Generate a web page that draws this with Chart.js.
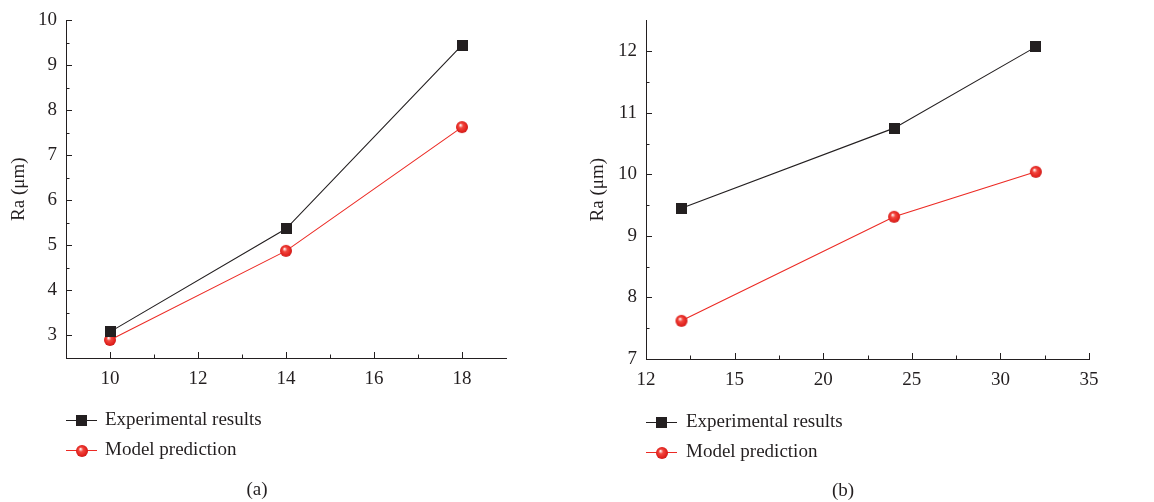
<!DOCTYPE html>
<html>
<head>
<meta charset="utf-8">
<script src="https://cdn.jsdelivr.net/npm/chart.js@4.4.0/dist/chart.umd.min.js"></script>
<style>
  html, body { margin: 0; padding: 0; background: #fff; }
  #wrap { display: flex; width: 1154px; height: 502px; }
  canvas { display: block; }
</style>
</head>
<body>
<div id="wrap">
  <canvas id="chartA" width="577" height="502"></canvas>
  <canvas id="chartB" width="577" height="502"></canvas>
</div>
<script>
// panel (a)
var xA = [10, 14, 18];
var expA = [3.08, 5.37, 9.45];
var modelA = [2.90, 4.88, 7.63];
var xTicksA = [10, 12, 14, 16, 18];
var xLabelsA = ['10', '12', '14', '16', '18'];
var yTicksA = [3, 4, 5, 6, 7, 8, 9, 10];

// panel (b)
var xB = [12, 24, 32];
var expB = [9.45, 10.75, 12.07];
var modelB = [7.62, 9.31, 10.04];
var xTicksB = [10, 15, 20, 25, 30, 35];
var xLabelsB = ['12', '15', '20', '25', '30', '35'];
var yTicksB = [7, 8, 9, 10, 11, 12];

var seriesNames = ['Experimental results', 'Model prediction'];

var ink = '#231f20';
var red = '#ec2a24';
var serif = "'Liberation Serif', 'DejaVu Serif', serif";

function squareMarker() {
	var c = document.createElement('canvas');
	c.width = 11; c.height = 11;
	var g = c.getContext('2d');
	g.fillStyle = ink;
	g.fillRect(0, 0, 11, 11);
	return c;
}

function ballMarker() {
	var c = document.createElement('canvas');
	c.width = 14; c.height = 14;
	var g = c.getContext('2d');
	var grad = g.createRadialGradient(5.5, 5, 0.5, 7, 7, 6.5);
	grad.addColorStop(0, '#fde3e0');
	grad.addColorStop(0.3, '#f2473f');
	grad.addColorStop(0.8, '#e0201b');
	grad.addColorStop(1, '#b8161a');
	g.fillStyle = grad;
	g.beginPath();
	g.arc(7, 7, 6, 0, Math.PI * 2);
	g.fill();
	return c;
}

var axisTicks = {
	id: 'axisTicks',
	afterDraw: function(chart) {
		var ctx = chart.ctx, a = chart.chartArea;
		ctx.save();
		ctx.strokeStyle = ink;
		ctx.lineWidth = 1;
		['x', 'y'].forEach(function(id) {
			var s = chart.scales[id];
			var vals = s.ticks.map(function(t) { return t.value; });
			var marks = [];
			vals.forEach(function(v, i) {
				marks.push([v, 6]);
				if (i < vals.length - 1) marks.push([(v + vals[i + 1]) / 2, 3.5]);
			});
			marks.forEach(function(m) {
				var p = Math.round(s.getPixelForValue(m[0])) + 0.5;
				ctx.beginPath();
				if (id === 'x') {
					ctx.moveTo(p, a.bottom);
					ctx.lineTo(p, a.bottom - m[1]);
				} else {
					ctx.moveTo(a.left, p);
					ctx.lineTo(a.left + m[1], p);
				}
				ctx.stroke();
			});
		});
		ctx.restore();
	}
};

var legendBelow = {
	id: 'legendBelow',
	afterDraw: function(chart, args, opts) {
		var ctx = chart.ctx, a = chart.chartArea;
		ctx.save();
		ctx.font = '19px ' + serif;
		ctx.textBaseline = 'middle';
		chart.data.datasets.forEach(function(ds, i) {
			var y = Math.round(a.bottom + opts.rowTop + i * 29.5) + 0.5;
			var x0 = a.left;
			ctx.strokeStyle = ds.borderColor;
			ctx.lineWidth = 1;
			ctx.beginPath();
			ctx.moveTo(x0, y);
			ctx.lineTo(x0 + 31, y);
			ctx.stroke();
			var img = ds.pointStyle;
			ctx.drawImage(img, Math.round(x0 + 15.5 - img.width / 2), Math.round(y - img.height / 2));
			ctx.fillStyle = ink;
			ctx.textAlign = 'left';
			ctx.fillText(ds.label, x0 + opts.textGap, y);
		});
		ctx.textAlign = 'center';
		ctx.fillText(opts.caption, a.left + opts.captionX, a.bottom + 132);
		ctx.restore();
	}
};

function makeChart(id, xs, exp, model, xTicks, xLabels, yTicks, xMin, xMax, yMin, yMax, box) {
	var ctx = document.getElementById(id).getContext('2d');
	var pts = function(ys) {
		return xs.map(function(x, i) { return { x: x, y: ys[i] }; });
	};
	var config = {
		type: 'line',
		data: {
			datasets: [{
				label: seriesNames[0],
				data: pts(exp),
				borderColor: ink,
				borderWidth: 1.1,
				pointStyle: squareMarker(),
				pointRadius: 6
			}, {
				label: seriesNames[1],
				data: pts(model),
				borderColor: red,
				borderWidth: 1.1,
				pointStyle: ballMarker(),
				pointRadius: 7
			}]
		},
		options: {
			responsive: false,
			devicePixelRatio: 1,
			animation: false,
			layout: { padding: { left: 0, top: box.top, right: box.right, bottom: 0 } },
			plugins: {
				legend: { display: false },
				tooltip: { enabled: false },
				legendBelow: { rowTop: box.rowTop, textGap: box.textGap, caption: box.caption, captionX: box.captionX }
			},
			scales: {
				x: {
					type: 'linear',
					min: xMin,
					max: xMax,
					grid: { display: false, drawTicks: false },
					border: { display: true, color: ink, width: 1 },
					afterBuildTicks: function(s) {
						s.ticks = xTicks.map(function(v) { return { value: v }; });
					},
					afterFit: function(s) { s.height = 502 - box.bottom; },
					ticks: {
						padding: 10,
						color: ink,
						font: { family: serif, size: 19 },
						maxRotation: 0,
						autoSkip: false,
						callback: function(v, i) { return xLabels[i]; }
					}
				},
				y: {
					type: 'linear',
					min: yMin,
					max: yMax,
					grid: { display: false, drawTicks: false },
					border: { display: true, color: ink, width: 1 },
					afterBuildTicks: function(s) {
						s.ticks = yTicks.map(function(v) { return { value: v }; });
					},
					afterFit: function(s) { s.width = box.left; },
					ticks: {
						padding: 9,
						color: ink,
						font: { family: serif, size: 19 },
						autoSkip: false,
						callback: function(v) { return String(v); }
					},
					title: {
						display: true,
						text: 'Ra (μm)',
						color: ink,
						font: { family: serif, size: 19 },
						padding: { top: box.titlePad, bottom: 0 }
					}
				}
			}
		},
		plugins: [axisTicks, legendBelow]
	};
	return new Chart(ctx, config);
}

makeChart('chartA', xA, expA, modelA, xTicksA, xLabelsA, yTicksA, 9, 19, 2.5, 10,
	{ left: 66, top: 16, right: 71, bottom: 358, titlePad: 8, rowTop: 62, textGap: 39, caption: '(a)', captionX: 191 });

makeChart('chartB', xB, expB, modelB, xTicksB, xLabelsB, yTicksB, 10, 35, 7, 12.5,
	{ left: 69, top: 19, right: 65, bottom: 359, titlePad: 10, rowTop: 63, textGap: 40, caption: '(b)', captionX: 197 });
</script>
</body>
</html>
